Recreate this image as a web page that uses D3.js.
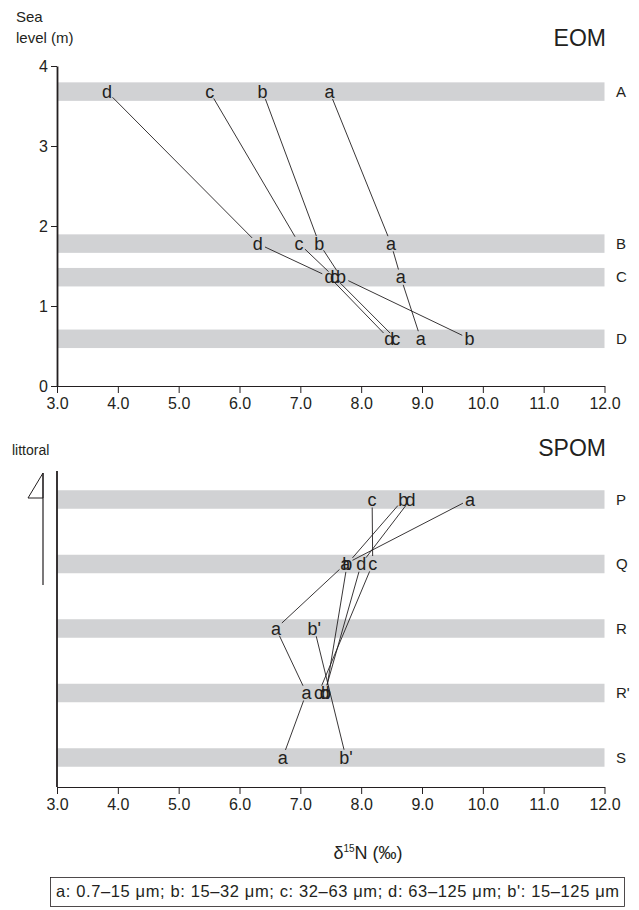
<!DOCTYPE html>
<html>
<head>
<meta charset="utf-8">
<script src="https://cdn.jsdelivr.net/npm/d3@7"></script>
<style>
  body { margin: 0; background: #fff; }
  text { font-family: "Liberation Sans", Arial, sans-serif; fill: #231f20; }
</style>
</head>
<body>
<svg id="chart" width="639" height="910"></svg>
<script>
// ---- data ----
const xTicks = [3, 4, 5, 6, 7, 8, 9, 10, 11, 12]
const levelTicks = [0, 1, 2, 3, 4]

// EOM: sea level (m) of each site and d15N of each size fraction
const eomSites = ['A', 'B', 'C', 'D']
const eomLevels = [3.68, 1.78, 1.36, 0.59]
const eomA = [7.48, 8.49, 8.65, 8.98]
const eomB = [6.38, 7.31, 7.67, 9.78]
const eomC = [5.51, 6.98, 7.56, 8.57]
const eomD = [3.82, 6.30, 7.48, 8.46]

// SPOM: sites top to bottom, null = no sample
const spomSites = ['P', 'Q', 'R', 'R\'', 'S']
const spomA = [9.79, 7.74, 6.60, 7.10, 6.71]
const spomB = [8.69, 7.77, null, 7.42, null]
const spomC = [8.18, 8.19, null, 7.30, null]
const spomD = [8.81, 8.00, null, 7.40, null]
const spomBp = [null, null, 7.23, null, 7.75]

const legendText = 'a: 0.7–15 μm; b: 15–32 μm; c: 32–63 μm; d: 63–125 μm; b\': 15–125 μm'

const svg = d3.select('#chart')
const bandColor = '#d1d2d4'
const ink = '#231f20'

const x = d3.scaleLinear().domain([3, 12]).range([57, 604.5])

// top panel scales
const yLevel = d3.scaleLinear().domain([0, 4]).range([386, 66])
// bottom panel: sites spaced evenly
const ySite = d3.scalePoint().domain(spomSites).range([499.5, 757.5])

const bandH = 18.5
const trim = 8

// draws connecting lines (trimmed round the letters) and returns letter spots
function drawSeries(g, label, values, ys) {
  const pts = values
    .map((v, i) => v == null ? null : [x(v), ys[i]])
    .filter((p) => p)
  const segs = d3.pairs(pts).map(([p, q]) => {
    const dx = q[0] - p[0]
    const dy = q[1] - p[1]
    const len = Math.hypot(dx, dy)
    const ux = dx / len
    const uy = dy / len
    return [p[0] + ux * trim, p[1] + uy * trim, q[0] - ux * trim, q[1] - uy * trim]
  })
  g.selectAll(null)
    .data(segs)
    .enter().append('line')
    .attr('x1', (d) => d[0]).attr('y1', (d) => d[1])
    .attr('x2', (d) => d[2]).attr('y2', (d) => d[3])
    .attr('stroke', ink)
    .attr('stroke-width', 0.9)
  return pts.map((p) => ({x: p[0], y: p[1], label}))
}

function drawLetters(g, letters) {
  g.selectAll(null)
    .data(letters)
    .enter().append('text')
    .attr('x', (d) => d.x)
    .attr('y', (d) => d.y + 6)
    .attr('text-anchor', 'middle')
    .style('font-size', '18px')
    .text((d) => d.label)
}

function drawXAxis(g, yPos) {
  const axis = d3.axisBottom(x)
    .tickValues(xTicks)
    .tickSize(7)
    .tickSizeOuter(0)
    .tickPadding(5)
    .tickFormat(d3.format('.1f'))
  const ax = g.append('g')
    .attr('transform', `translate(0,${yPos})`)
    .call(axis)
  ax.select('.domain').attr('stroke', ink).attr('stroke-width', 1.2)
  ax.selectAll('.tick line').attr('stroke', ink)
  ax.selectAll('.tick text')
    .style('font-size', '16px')
    .style('font-family', '"Liberation Sans", Arial, sans-serif')
    .attr('fill', ink)
}

// ---------- top panel: EOM ----------
const eomPanel = svg.append('g')

const eomY = eomLevels.map((l) => yLevel(l))
eomPanel.selectAll('.band')
  .data(eomSites)
  .enter().append('rect')
  .attr('x', x(3))
  .attr('y', (d, i) => eomY[i] - bandH / 2)
  .attr('width', x(12) - x(3))
  .attr('height', bandH)
  .attr('fill', bandColor)

eomPanel.selectAll('.site')
  .data(eomSites)
  .enter().append('text')
  .attr('x', 616)
  .attr('y', (d, i) => eomY[i] + 5)
  .style('font-size', '15px')
  .text((d) => d)

const yAxis = d3.axisLeft(yLevel)
  .tickValues(levelTicks)
  .tickSize(6)
  .tickSizeOuter(0)
  .tickPadding(3)
  .tickFormat(d3.format('d'))
const ya = eomPanel.append('g')
  .attr('transform', `translate(${x(3)},0)`)
  .call(yAxis)
ya.select('.domain').attr('stroke', ink).attr('stroke-width', 1.8)
ya.selectAll('.tick line').attr('stroke', ink)
ya.selectAll('.tick text')
  .style('font-size', '16px')
  .style('font-family', '"Liberation Sans", Arial, sans-serif')
  .attr('fill', ink)

drawXAxis(eomPanel, yLevel(0))

const eomLetters = []
;[['a', eomA], ['b', eomB], ['c', eomC], ['d', eomD]].forEach(([lab, vals]) => {
  eomLetters.push(...drawSeries(eomPanel, lab, vals, eomY))
})
drawLetters(eomPanel, eomLetters)

eomPanel.append('text').attr('x', 16).attr('y', 22).style('font-size', '15px').text('Sea')
eomPanel.append('text').attr('x', 16).attr('y', 43).style('font-size', '15px').text('level (m)')
eomPanel.append('text')
  .attr('x', 606).attr('y', 46)
  .attr('text-anchor', 'end')
  .style('font-size', '23px')
  .text('EOM')

// ---------- bottom panel: SPOM ----------
const spomPanel = svg.append('g')
const spomY = spomSites.map((s) => ySite(s))

spomPanel.selectAll('.band')
  .data(spomSites)
  .enter().append('rect')
  .attr('x', x(3))
  .attr('y', (d) => ySite(d) - bandH / 2)
  .attr('width', x(12) - x(3))
  .attr('height', bandH)
  .attr('fill', bandColor)

spomPanel.selectAll('.site')
  .data(spomSites)
  .enter().append('text')
  .attr('x', 616)
  .attr('y', (d) => ySite(d) + 5)
  .style('font-size', '15px')
  .text((d) => d)

spomPanel.append('line')
  .attr('x1', x(3)).attr('x2', x(3))
  .attr('y1', 471).attr('y2', 787)
  .attr('stroke', ink)
  .attr('stroke-width', 1.8)

drawXAxis(spomPanel, 787)

const spomLetters = []
;[['a', spomA], ['b', spomB], ['c', spomC], ['d', spomD], ['b\'', spomBp]].forEach(([lab, vals]) => {
  spomLetters.push(...drawSeries(spomPanel, lab, vals, spomY))
})
drawLetters(spomPanel, spomLetters)

spomPanel.append('text')
  .attr('x', 606).attr('y', 456)
  .attr('text-anchor', 'end')
  .style('font-size', '23px')
  .text('SPOM')
spomPanel.append('text').attr('x', 12).attr('y', 455).style('font-size', '14px').text('littoral')

// water level marker
spomPanel.append('path')
  .attr('d', 'M43,473 L28,498 L43,498 Z')
  .attr('fill', 'none')
  .attr('stroke', ink)
  .attr('stroke-width', 1)
spomPanel.append('line')
  .attr('x1', 43).attr('x2', 43)
  .attr('y1', 473).attr('y2', 585)
  .attr('stroke', ink)
  .attr('stroke-width', 1.2)

// axis title
const title = spomPanel.append('text')
  .attr('x', 368).attr('y', 859)
  .attr('text-anchor', 'middle')
  .style('font-size', '18px')
title.append('tspan').text('δ')
title.append('tspan').attr('dy', -7).style('font-size', '10px').text('15')
title.append('tspan').attr('dy', 7).text('N (‰)')

// legend box
svg.append('rect')
  .attr('x', 50.5).attr('y', 877.5)
  .attr('width', 574).attr('height', 29)
  .attr('fill', 'none')
  .attr('stroke', ink)
  .attr('stroke-width', 0.8)
svg.append('text')
  .attr('x', 56).attr('y', 897)
  .style('font-size', '16.5px')
  .attr('textLength', 563)
  .attr('lengthAdjust', 'spacing')
  .text(legendText)
</script>
</body>
</html>
